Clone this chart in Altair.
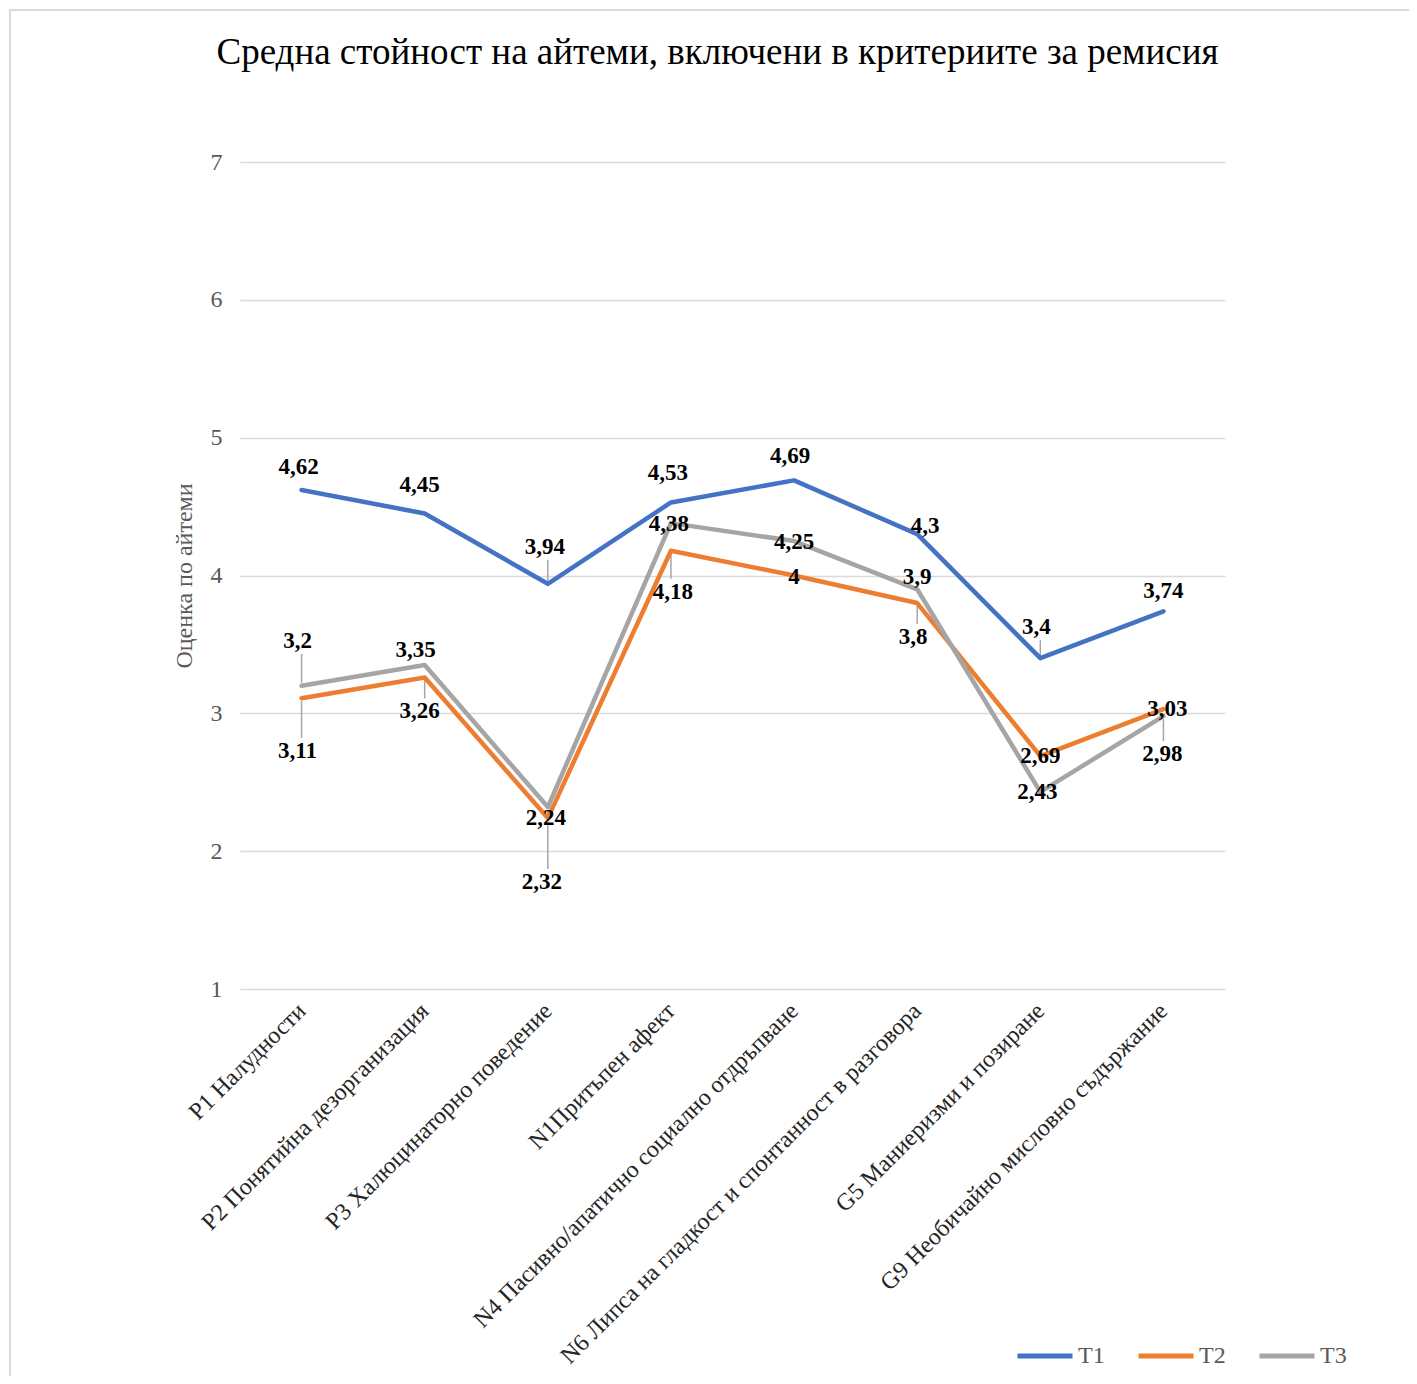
import altair as alt
import pandas as pd

CATEGORIES = [
    "P1 Налудности",
    "P2 Понятийна дезорганизация",
    "P3 Халюцинаторно поведение",
    "N1Притъпен афект",
    "N4 Пасивно/апатично социално отдръпване",
    "N6 Липса на гладкост и спонтанност в разговора",
    "G5 Маниеризми и позиране",
    "G9 Необичайно мисловно съдържание",
]
SERIES = ["T1", "T2", "T3"]
T1 = [4.62, 4.45, 3.94, 4.53, 4.69, 4.3, 3.4, 3.74]
T2 = [3.11, 3.26, 2.24, 4.18, 4.0, 3.8, 2.69, 3.03]
T3 = [3.2, 3.35, 2.32, 4.38, 4.25, 3.9, 2.43, 2.98]
LABELS_T1 = ["4,62", "4,45", "3,94", "4,53", "4,69", "4,3", "3,4", "3,74"]
LABELS_T2 = ["3,11", "3,26", "2,24", "4,18", "4", "3,8", "2,69", "3,03"]
LABELS_T3 = ["3,2", "3,35", "2,32", "4,38", "4,25", "3,9", "2,43", "2,98"]
COLORS = ["#4472C4", "#ED7D31", "#A5A5A5"]
TITLE = "Средна стойност на айтеми, включени в критериите за ремисия"
Y_TITLE = "Оценка по айтеми"

# label placement offsets (pixels, + is downward), styling only
LABEL_DY = {
    "T1": [-23, -28, -37, -29, -24, -8, -31, -20],
    "T2": [53, 34, 0, 41, 1, 34, 0, 0],
    "T3": [-45, -15, 75, 1, 1, -12, 0, 38],
}
LABEL_DX = {
    "T1": [-3, -5, -3, -3, -4, 8, -4, 0],
    "T2": [-4, -5, -2, 2, 0, -4, 0, 4],
    "T3": [-4, -9, -6, -2, 0, 0, -3, -1],
}

rows = []
for s, vals, labs in zip(SERIES, [T1, T2, T3], [LABELS_T1, LABELS_T2, LABELS_T3]):
    for i, (c, v, l) in enumerate(zip(CATEGORIES, vals, labs)):
        rows.append({"cat": c, "series": s, "value": v, "label": l,
                     "order": i, "dy": LABEL_DY[s][i], "dx": LABEL_DX[s][i]})
df = pd.DataFrame(rows)

W, H = 985, 827
YMIN, YMAX = 1, 7
PX = f"{(YMAX - YMIN)} / {H}"  # data units per pixel
SERIF = "Liberation Serif"

x_enc = alt.X("cat:N", sort=CATEGORIES,
              scale=alt.Scale(type="point", padding=0.5),
              axis=alt.Axis(title=None, labelAngle=-45, labelAlign="right",
                            labelBaseline="middle", labelFontSize=24,
                            labelFont=SERIF, labelColor="#262626",
                            labelPadding=18, labelLimit=0, domain=False,
                            ticks=False, grid=False))
y_scale = alt.Scale(domain=[YMIN, YMAX], nice=False, zero=False)
y_enc = alt.Y("value:Q", scale=y_scale,
              axis=alt.Axis(title=Y_TITLE, values=[1, 2, 3, 4, 5, 6, 7],
                            format="d",
                            labelFontSize=24, labelFont=SERIF,
                            labelColor="#595959", labelPadding=18,
                            titleFont=SERIF, titleFontSize=24,
                            titleFontWeight="normal", titleColor="#595959",
                            titlePadding=14, domain=False, ticks=False,
                            grid=True, gridColor="#d9d9d9", gridWidth=1.5))
color_enc = alt.Color("series:N",
                      scale=alt.Scale(domain=SERIES, range=COLORS),
                      legend=alt.Legend(title=None, orient="none",
                                        direction="horizontal",
                                        legendX=775, legendY=1164,
                                        symbolType="stroke", symbolSize=3025,
                                        symbolStrokeWidth=5,
                                        labelFont=SERIF, labelFontSize=24,
                                        labelColor="#595959", labelOffset=3,
                                        columnPadding=23))

base = alt.Chart(df)

leaders = base.transform_filter("abs(datum.dy) >= 30").transform_calculate(
    sgn="datum.dy > 0 ? 1 : -1",
).transform_calculate(
    ly1=f"datum.value - datum.sgn * 3 * {PX}",
    ly2=f"datum.value - (datum.dy - datum.sgn * 13) * {PX}",
).mark_rule(color="#a6a6a6", strokeWidth=1.5).encode(
    x=alt.X("cat:N", sort=CATEGORIES),
    y=alt.Y("ly1:Q", scale=y_scale),
    y2="ly2:Q")

lines = base.mark_line(strokeWidth=4.5, strokeCap="round", strokeJoin="round").encode(
    x=x_enc, y=y_enc, color=color_enc, order="order:Q")

# pixel offsets converted to data units through the y scale's span
text = base.transform_calculate(
    label_y=f"datum.value - datum.dy * {PX}"
).mark_text(font=SERIF, fontSize=23, fontWeight="bold", color="black",
            baseline="middle", align="center").encode(
    x=alt.X("cat:N", sort=CATEGORIES),
    xOffset=alt.XOffset("dx:Q", scale=None),
    y=alt.Y("label_y:Q", scale=y_scale),
    text="label:N")

border = alt.Chart(pd.DataFrame({"a": [0]})).mark_rect(
    fill=None, stroke="#d9d9d9", strokeWidth=2, clip=False).encode(
    x=alt.value(-230), x2=alt.value(1300), y=alt.value(-152), y2=alt.value(1300))

chart = alt.layer(border, leaders, lines, text).properties(
    width=W, height=H,
    title=alt.TitleParams(TITLE, font=SERIF, fontSize=37, fontWeight="normal",
                          color="black", anchor="middle", baseline="alphabetic",
                          offset=-92, dx=-15),
    autosize=alt.AutoSizeParams(type="none"),
    padding={"left": 232, "top": 154, "right": 184, "bottom": 387},
).configure_view(stroke=None)

chart.save("out.html", embed_options={"renderer": "svg", "actions": False})
